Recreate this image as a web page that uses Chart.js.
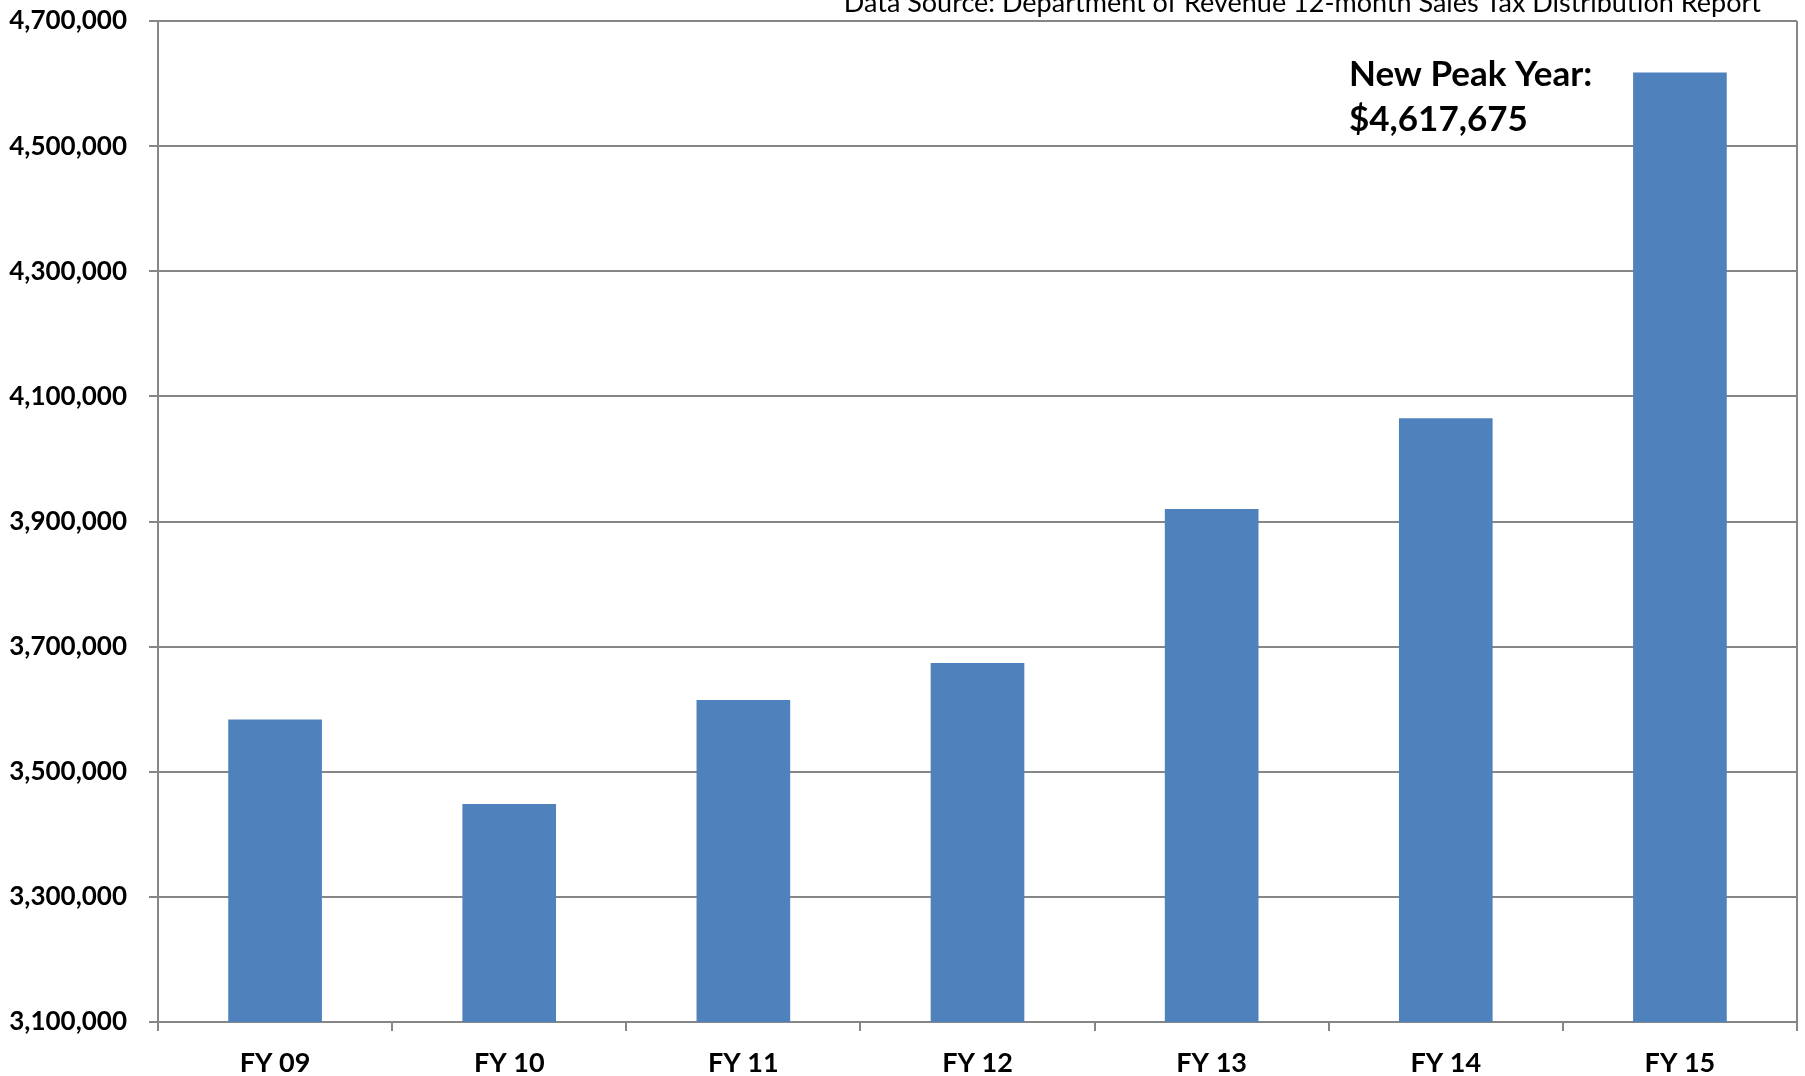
<!DOCTYPE html>
<html>
<head>
<meta charset="utf-8">
<script src="https://cdn.jsdelivr.net/npm/chart.js@4.4.1/dist/chart.umd.min.js"></script>
<style>
  html, body { margin: 0; padding: 0; background: #fff; }
  #wrap { width: 1805px; height: 1076px; position: relative; }
</style>
</head>
<body>
<div id="wrap"><canvas id="chartCanvas"></canvas></div>
<script>
// fiscal years and 12-month sales tax totals
const years = ['FY 09', 'FY 10', 'FY 11', 'FY 12', 'FY 13', 'FY 14', 'FY 15'];
const salesTax = [3583500, 3448500, 3614500, 3674000, 3920000, 4065000, 4617675];
const yTicks = [3100000, 3300000, 3500000, 3700000, 3900000, 4100000, 4300000, 4500000, 4700000];

const sourceNote = 'Data Source: Department of Revenue 12-month Sales Tax Distribution Report';
const peakNote = ['New Peak Year:', '$4,617,675'];

const FONT = 'Lato, "Open Sans", sans-serif';
const GRID = '#868686';

// notes + right border of the plot area
const extras = {
    id: 'extras',
    afterDraw(chart) {
        const { ctx, chartArea } = chart;
        ctx.save();
        ctx.strokeStyle = GRID;
        ctx.lineWidth = 2;
        ctx.beginPath();
        ctx.moveTo(chartArea.right, chartArea.top);
        ctx.lineTo(chartArea.right, chartArea.bottom);
        ctx.stroke();

        ctx.fillStyle = '#000';
        ctx.textBaseline = 'alphabetic';
        ctx.font = '27px ' + FONT;
        ctx.textAlign = 'right';
        ctx.fillText(sourceNote, 1761, 12);

        ctx.textAlign = 'left';
        ctx.font = 'bold 35px ' + FONT;
        ctx.fillText(peakNote[0], 1349, 86);
        ctx.fillText(peakNote[1], 1349, 131);
        ctx.restore();
    }
};

new Chart(document.getElementById('chartCanvas'), {
    type: 'bar',
    data: {
        labels: years,
        datasets: [{
            data: salesTax,
            backgroundColor: '#4F81BD',
            borderWidth: 0,
            barPercentage: 0.4,
            categoryPercentage: 1.0
        }]
    },
    options: {
        responsive: true,
        maintainAspectRatio: false,
        animation: false,
        layout: { padding: { top: 21, right: 8, left: 0, bottom: 0 } },
        plugins: { legend: { display: false }, tooltip: { enabled: false } },
        scales: {
            x: {
                grid: { drawOnChartArea: false, drawTicks: true, tickLength: 9, color: GRID, lineWidth: 2, offset: true },
                border: { color: GRID, width: 2 },
                ticks: { color: '#000', font: { family: FONT, size: 27, weight: 'bold' }, padding: 16, maxRotation: 0 },
                afterFit(scale) { scale.height = 54; scale.paddingLeft = 0; scale.paddingRight = 0; }
            },
            y: {
                min: 3100000,
                max: 4700000,
                afterBuildTicks(scale) { scale.ticks = yTicks.map(v => ({ value: v })); },
                grid: { color: GRID, lineWidth: 2, tickLength: 9 },
                border: { color: GRID, width: 2 },
                ticks: {
                    color: '#000',
                    font: { family: FONT, size: 26, weight: 'bold' },
                    padding: 22,
                    callback: v => v.toLocaleString('en-US')
                },
                afterFit(scale) { scale.width = 158; scale.paddingTop = 0; scale.paddingBottom = 0; }
            }
        }
    },
    plugins: [extras]
});
</script>
</body>
</html>
